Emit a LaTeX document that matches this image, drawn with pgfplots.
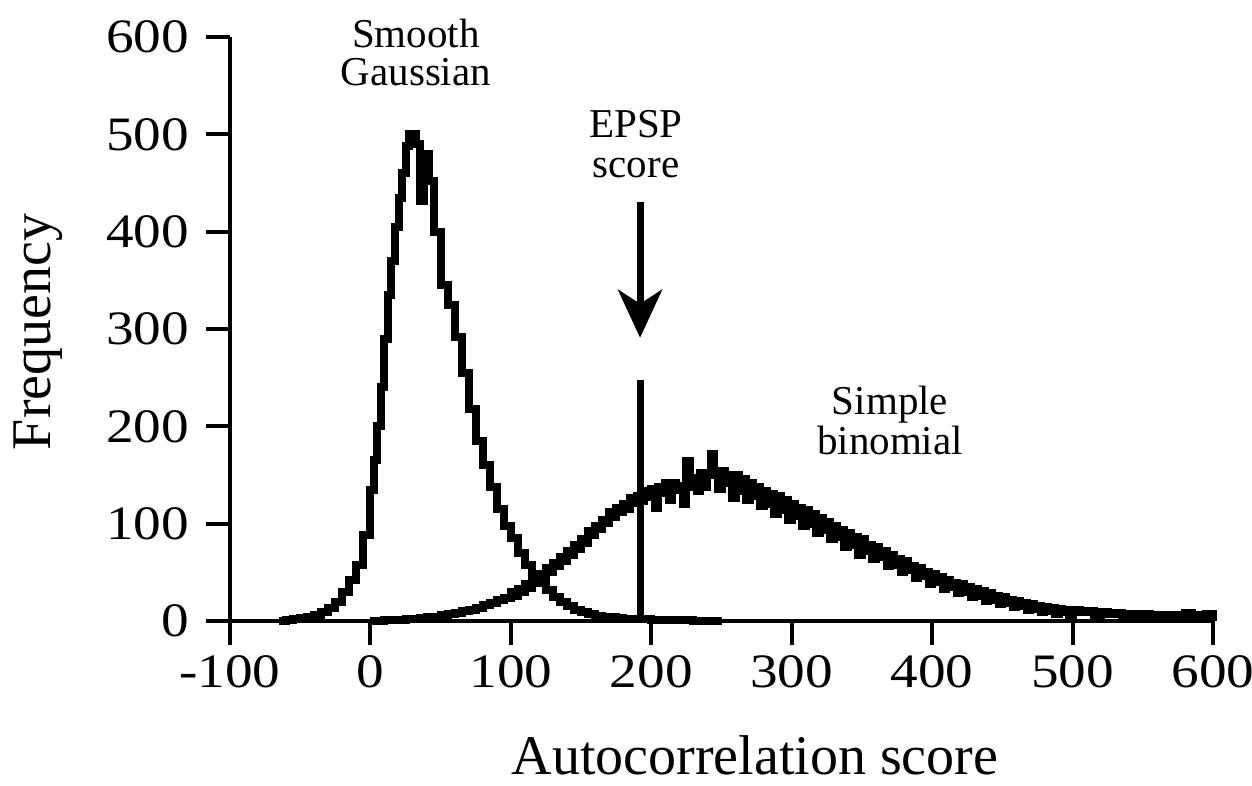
\documentclass[border=0pt]{standalone}
\usepackage{fontspec}
\setmainfont{Liberation Serif}
\newfontfamily\tickfont[FakeStretch=1.15]{Liberation Serif}
\usepackage{pgfplots}
\usepackage{pgfplotstable}
\pgfplotsset{compat=1.18}
\usetikzlibrary{arrows.meta}

% Histogram of autocorrelation scores, smooth Gaussian model (bin left edge, count)
\pgfplotstableread{
x y
-65 0
-60 1
-55 2
-50 3
-45 4
-40 6
-35 9
-30 13
-25 20
-20 30
-15 42
-10 58
-5 88
0 135
2.5 165
5 200
7.5 240
10 290
12.5 335
15 370
17.5 405
20 435
22.5 460
25 488
27.5 500
32.5 490
35 432
38 480
42 452
45 400
50 345
55 325
60 292
65 255
70 218
75 185
80 160
85 138
90 115
95 98
100 85
105 70
110 58
115 48
120 40
125 32
130 25
135 20
140 15
145 11
150 9
155 7
160 5
165 4
170 4
175 3
180 2
190 2
200 1
215 1
230 0
250 0
}\gaussdata

% Histogram of autocorrelation scores, simple binomial model
\pgfplotstableread{
x y
0 0
10 1
20 1
25 2
30 2
35 3
40 4
45 4
50 6
55 7
60 8
65 10
70 11
75 13
80 16
85 18
90 22
95 24
100 30
102.5 26
105 33
107.5 30
110 38
112.5 34
115 42
117.5 39
120 47
122.5 44
125 54
127.5 50
130 60
132.5 56
135 66
137.5 62
140 72
142.5 68
145 78
147.5 74
150 84
152.5 80
155 92
157.5 88
160 98
162.5 95
165 104
167.5 101
170 112
172.5 107
175 116
177.5 112
180 120
182.5 115
185 126
187.5 121
190 128
192.5 123
195 134
197.5 127
200 136
202.5 116
205 138
207.5 132
210 142
212.5 124
215 142
217.5 135
220 139
222.5 120
225 164
227.5 138
230 147
232.5 134
235 152
237.5 138
240 150
242.5 172
245 150
247.5 136
250 154
252.5 142
255 150
257.5 126
260 150
262.5 134
265 146
267.5 124
270 142
272.5 128
275 138
277.5 118
280 134
282.5 120
285 130
287.5 110
290 128
292.5 114
295 124
297.5 104
300 120
302.5 108
305 116
307.5 98
310 114
312.5 100
315 110
317.5 90
320 106
322.5 94
325 102
327.5 84
330 98
332.5 86
335 94
337.5 76
340 90
342.5 78
345 86
347.5 68
350 84
352.5 72
355 78
357.5 64
360 76
362.5 66
365 72
367.5 56
370 68
372.5 58
375 64
377.5 50
380 62
382.5 52
385 57
387.5 44
390 54
392.5 46
395 50
397.5 38
400 48
402.5 40
405 45
407.5 33
410 42
412.5 35
415 39
417.5 29
420 38
422.5 30
425 35
427.5 25
430 33
432.5 26
435 31
437.5 21
440 29
442.5 22
445 26
447.5 17
450 25
452.5 18
455 22
457.5 14
460 21
462.5 15
465 18
467.5 11
470 17
472.5 12
475 15
477.5 9
480 14
482.5 10
485 13
487.5 7
490 12
492.5 9
495 11
497.5 6
500 11
505 9
510 10
515 6
520 9
525 7
530 8
535 5
540 7
545 6
550 7
555 4
560 6
565 5
570 6
575 4
580 8
585 6
590 5
595 7
600 0
}\binomdata

\begin{document}
\begin{tikzpicture}
\begin{axis}[
  scale only axis,
  width=491.5pt, height=292pt,
  xmin=-100, xmax=600, ymin=0, ymax=600,
  xtick={-100,0,...,600}, ytick={0,100,...,600},
  axis lines=left,
  axis line style={-, line width=2pt},
  tick align=outside,
  major tick length=12pt,
  tick style={line width=2pt, black},
  /pgf/number format/assume math mode=true,
  /pgf/number format/1000 sep={},
  ticklabel style={font=\tickfont\fontsize{24}{24}\selectfont},
  yticklabel style={xshift=-5pt},
  xticklabel style={yshift=-2pt},
  clip=false,
]
  % measured EPSP score marker and arrow
  \draw[line width=3.5pt] (axis cs:192,0) -- (axis cs:192,248);
  \draw[line width=3.5pt, -{Stealth[length=24pt,width=22pt,inset=7pt]}]
    (axis cs:192,430) -- (axis cs:192,291);

  \addplot[const plot, black, line width=4pt] table[x=x, y=y] {\gaussdata};
  \addplot[const plot, black, line width=4pt] table[x=x, y=y] {\binomdata};

  \node[anchor=north, align=center, inner sep=0pt,
        font=\fontsize{20.5}{19}\selectfont] at (axis cs:32.4,618.5) {Smooth\\Gaussian};
  \node[anchor=north, align=center, inner sep=0pt,
        font=\fontsize{20.5}{20}\selectfont] at (axis cs:189.1,525) {EPSP\\score};
  \node[anchor=north, align=center, inner sep=0pt,
        font=\fontsize{20.5}{20}\selectfont] at (axis cs:370,241.4) {Simple\\binomial};

  \node[anchor=base, inner sep=0pt, font=\fontsize{28}{28}\selectfont]
    at (axis description cs:0.534,-0.262) {Autocorrelation score};
  \node[rotate=90, anchor=center, inner sep=0pt, font=\fontsize{28}{28}\selectfont]
    at (axis description cs:-0.195,0.495) {Frequency};

  \coordinate (bbsw) at (axis description cs:-0.23398,-0.28082);
  \coordinate (bbne) at (axis description cs:1.03967,1.06336);
\end{axis}
\pgfresetboundingbox
\useasboundingbox (bbsw) rectangle (bbne);
\end{tikzpicture}
\end{document}
